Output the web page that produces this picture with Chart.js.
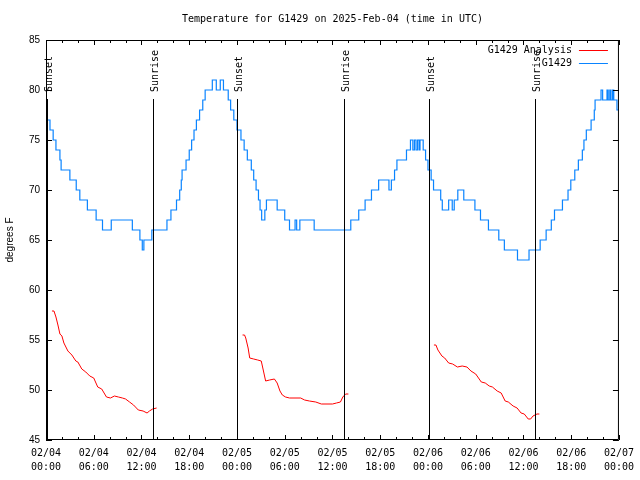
<!DOCTYPE html>
<html><head><meta charset="utf-8">
<script src="https://cdn.jsdelivr.net/npm/chart.js@4/dist/chart.umd.min.js"></script>
<style>html,body{margin:0;padding:0;background:#fff}#c{display:block}</style>
</head><body>
<canvas id="c" width="640" height="480"></canvas>
<script>
// x values are hours since 02/04 00:00 UTC
const xTickLabels = [["02/04","00:00"],["02/04","06:00"],["02/04","12:00"],["02/04","18:00"],["02/05","00:00"],["02/05","06:00"],["02/05","12:00"],["02/05","18:00"],["02/06","00:00"],["02/06","06:00"],["02/06","12:00"],["02/06","18:00"],["02/07","00:00"]];
const yTicks = [45,50,55,60,65,70,75,80,85];

const obsHours = [0.2,0.5,0.9,1.25,1.75,1.9,3.0,3.8,4.25,5.2,6.3,7.1,8.2,10.85,11.8,12.1,12.3,13.3,15.2,15.7,16.4,16.8,17.0,17.1,17.6,18.0,18.3,18.6,18.9,19.3,19.7,20.0,20.9,21.4,21.9,22.3,22.9,23.2,23.6,24.0,24.5,24.9,25.3,25.8,26.1,26.4,26.7,26.9,27.1,27.5,27.7,29.05,30.0,30.6,31.3,31.5,31.9,33.7,38.3,39.3,40.1,40.9,41.8,43.1,43.4,43.8,44.1,45.3,45.8,46.1,46.3,46.5,46.7,46.9,47.0,47.4,47.7,48.0,48.4,48.7,49.6,49.8,50.6,51.05,51.3,51.75,52.5,53.9,54.6,55.6,56.9,57.6,59.25,60.7,62.1,62.85,63.5,63.9,64.9,65.6,65.95,66.45,66.9,67.4,67.6,67.9,68.5,68.9,69.0,69.75,69.95,70.5,70.65,70.85,71.0,71.2,71.35,71.75,72.0];
const obsTemps = [77,76,75,74,73,72,71,70,69,68,67,66,67,66,65,64,65,66,67,68,69,70,71,72,73,74,75,76,77,78,79,80,81,80,81,80,79,78,77,76,75,74,73,72,71,70,69,68,67,68,69,68,67,66,67,66,67,66,67,68,69,70,71,70,71,72,73,74,75,74,75,74,75,74,75,74,73,72,71,70,69,68,69,68,69,70,69,68,67,66,65,64,63,64,65,66,67,68,69,70,71,72,73,74,75,76,77,78,79,80,79,80,79,80,79,80,79,78,78];

const anaHours = [0.75,1.0,1.25,1.5,1.75,2.0,2.25,2.75,3.25,3.75,4.0,4.5,5.0,5.5,6.0,6.5,7.0,7.6,8.1,8.6,9.1,9.6,10.0,10.5,11.0,11.6,12.2,12.7,13.0,13.4,13.9, 18.0,
  24.7,24.95,25.1,25.4,25.6,26.1,26.6,27.05,27.3,27.6,28.1,28.7,29.05,29.4,29.7,30.1,30.6,32.0,32.5,33.1,33.9,34.6,36.0,36.5,37.0,37.3,37.65,38.0, 42.0,
  48.75,49.0,49.25,49.75,50.1,50.6,51.1,51.7,52.3,52.9,53.4,54.0,54.7,55.2,55.7,56.1,56.7,57.2,57.7,58.1,58.7,59.2,59.7,60.1,60.6,60.9,61.2,61.7,62.0];
const anaTemps = [57.9,57.9,57.3,56.5,55.6,55.4,54.7,53.9,53.5,52.9,52.8,52.1,51.8,51.4,51.2,50.3,50.1,49.3,49.2,49.4,49.3,49.2,49.1,48.8,48.5,48.0,47.9,47.7,47.9,48.1,48.2, null,
  55.5,55.5,55.2,54.2,53.2,53.1,53.0,52.9,52.0,50.9,51.0,51.1,50.7,49.9,49.5,49.3,49.2,49.2,49.0,48.9,48.8,48.6,48.6,48.7,48.8,49.3,49.6,49.6, null,
  54.5,54.5,54.0,53.4,53.2,52.7,52.6,52.3,52.4,52.3,51.9,51.6,50.8,50.7,50.4,50.3,49.9,49.7,48.9,48.8,48.4,48.2,47.7,47.6,47.1,47.1,47.4,47.6,47.6];

const sunsetHours = [0.1, 24.0, 48.1];
const sunriseHours = [13.4, 37.45, 61.4];

const MONO = "'DejaVu Sans Mono', monospace";
const SANS = "'Liberation Sans', Arial, sans-serif";

const toPts = (xs, ys) => xs.map((x, i) => ({x: x, y: ys[i]}));

const decor = {
  id: 'decor',
  afterDatasetsDraw(chart) {
    const {ctx, chartArea: a, scales: {x, y}} = chart;
    ctx.save();
    // sunrise / sunset markers
    ctx.strokeStyle = '#000'; ctx.lineWidth = 1;
    ctx.fillStyle = '#000'; ctx.font = '10px ' + MONO;
    const marks = sunsetHours.map(h => [h, 'Sunset']).concat(sunriseHours.map(h => [h, 'Sunrise']));
    marks.forEach(([h, label]) => {
      const px = Math.round(x.getPixelForValue(h)) + 0.5;
      ctx.beginPath(); ctx.moveTo(px, a.top + 59); ctx.lineTo(px, a.bottom); ctx.stroke();
      ctx.save();
      ctx.translate(px + 1.5, a.top + 52);
      ctx.rotate(-Math.PI / 2);
      ctx.textAlign = 'left'; ctx.textBaseline = 'middle';
      ctx.fillText(label, 0, 0);
      ctx.restore();
    });
    // frame
    ctx.beginPath();
    ctx.rect(a.left + 0.5, a.top + 0.5, a.right - a.left - 1, a.bottom - a.top - 1);
    ctx.stroke();
    // inward ticks
    ctx.beginPath();
    yTicks.forEach(v => {
      const py = Math.round(y.getPixelForValue(v)) + 0.5;
      ctx.moveTo(a.left, py); ctx.lineTo(a.left + 6, py);
      ctx.moveTo(a.right, py); ctx.lineTo(a.right - 6, py);
    });
    for (let h = 0; h <= 72; h += 2) {
      const px = Math.round(x.getPixelForValue(h)) + 0.5;
      const len = (h % 6 === 0) ? 5 : 3;
      ctx.moveTo(px, a.bottom); ctx.lineTo(px, a.bottom - len);
      ctx.moveTo(px, a.top); ctx.lineTo(px, a.top + len);
    }
    ctx.stroke();
    // legend
    ctx.font = '10px ' + MONO;
    ctx.textAlign = 'right'; ctx.textBaseline = 'middle';
    chart.data.datasets.forEach((ds, i) => {
      const ly = a.top + 10 + i * 13;
      ctx.fillStyle = '#000';
      ctx.fillText(ds.label, a.right - 47, ly);
      ctx.strokeStyle = ds.borderColor; ctx.lineWidth = 1;
      ctx.beginPath(); ctx.moveTo(a.right - 40, ly + 0.5); ctx.lineTo(a.right - 11, ly + 0.5); ctx.stroke();
    });
    ctx.restore();
  }
};

new Chart(document.getElementById('c'), {
  type: 'line',
  data: {
    datasets: [
      {label: 'G1429 Analysis', data: toPts(anaHours, anaTemps), borderColor: '#ff0000', borderWidth: 1, pointRadius: 0, spanGaps: false, tension: 0},
      {label: 'G1429', data: toPts(obsHours, obsTemps), borderColor: '#0a84ff', borderWidth: 1.2, pointRadius: 0, stepped: true}
    ]
  },
  options: {
    responsive: false, animation: false, events: [],
    layout: {padding: {left: 0, right: 19, top: 0, bottom: 0}},
    plugins: {
      legend: {display: false}, tooltip: {enabled: false},
      title: {display: true, fullSize: false, text: 'Temperature for G1429 on 2025-Feb-04 (time in UTC)',
        color: '#000', font: {family: MONO, size: 10, weight: 'normal', lineHeight: 1.2}, padding: {top: 13, bottom: 15}}
    },
    scales: {
      x: {type: 'linear', min: 0, max: 72,
        grid: {display: false, drawTicks: false}, border: {display: false},
        ticks: {stepSize: 6, autoSkip: false, maxRotation: 0, padding: 6, color: '#000',
          font: {family: MONO, size: 10, lineHeight: 1.4},
          callback: v => xTickLabels[Math.round(v / 6)]},
        afterFit: s => { s.height = 40; }
      },
      y: {min: 45, max: 85,
        grid: {display: false, drawTicks: false}, border: {display: false},
        ticks: {stepSize: 5, padding: 6, color: '#000', font: {family: SANS, size: 10}},
        title: {display: true, text: 'degrees F', color: '#000', font: {family: SANS, size: 10}, padding: {top: 4, bottom: 0}},
        afterFit: s => { s.width = 46; }
      }
    }
  },
  plugins: [decor]
});
</script>
</body></html>
